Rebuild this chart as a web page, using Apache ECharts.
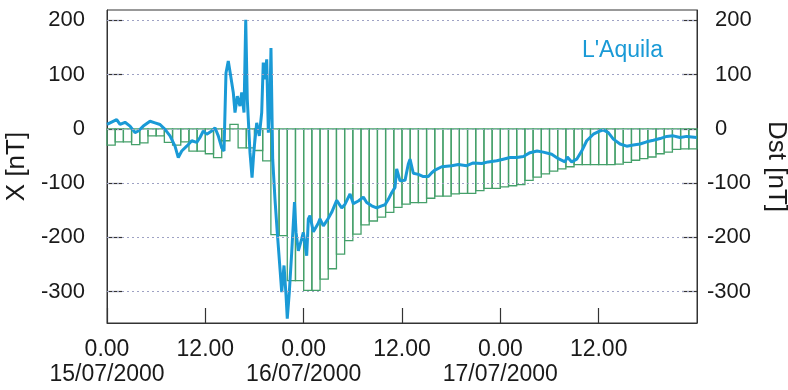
<!DOCTYPE html>
<html>
<head>
<meta charset="utf-8">
<script src="https://cdn.jsdelivr.net/npm/echarts@6/dist/echarts.min.js"></script>
<style>
html,body{margin:0;padding:0;background:#fff;}
#chart{width:788px;height:390px;}
</style>
</head>
<body>
<div id="chart"></div>
<script>
// ---- data ----
var xTickLabels = ['0.00\n15/07/2000', '12.00', '0.00\n16/07/2000', '12.00', '0.00\n17/07/2000', '12.00', ''];
var yTickValues = [-300, -200, -100, 0, 100, 200];
var stationName = "L'Aquila";

// hourly Dst [nT], hour 0 = 15/07/2000 00:00
var dstValues = [-30,-24,-24,-29,-26,-13,-13,-25,-30,-24,
  -41,-41,-46,-53,-22,8,-35,-35,-40,-59,
  -195,-197,-280,-280,-298,-298,-277,-258,-231,-206,
  -194,-177,-170,-163,-154,-145,-139,-136,-136,-128,
  -124,-124,-120,-119,-119,-114,-110,-110,-107,-105,
  -103,-95,-89,-83,-78,-74,-70,-66,-66,-66,
  -66,-66,-65,-62,-58,-55,-52,-46,-43,-38,
  -37,-37];

// L'Aquila X component: time [hours since 15/07 00:00] and value [nT]
var xTimes = [0.0,1.18,1.59,2.20,2.81,3.42,3.82,4.43,5.25,5.86,
  6.47,7.08,7.69,8.30,8.70,9.12,9.73,10.34,10.95,11.35,
  11.75,12.17,12.78,13.18,13.58,14.00,14.28,14.52,14.80,15.10,
  15.41,15.62,15.90,16.23,16.44,16.72,16.93,17.12,17.45,17.70,
  17.94,18.27,18.59,18.88,19.07,19.28,19.49,19.69,19.89,20.01,
  20.22,20.50,20.78,21.11,21.32,21.60,21.85,22.00,22.25,22.54,
  22.88,23.07,23.35,23.76,23.96,24.37,24.57,24.77,25.18,25.75,
  25.99,26.40,27.01,27.42,28.03,28.64,29.05,29.66,30.06,30.67,
  31.28,31.69,32.30,32.91,33.52,33.93,34.33,34.74,35.15,35.35,
  35.76,36.37,36.77,36.98,37.38,37.99,38.60,39.21,39.63,40.03,
  40.85,42.07,42.87,43.90,44.70,45.73,46.53,47.56,48.36,49.18,
  50.00,50.81,51.62,52.48,53.25,54.27,55.08,55.89,56.18,56.71,
  57.32,57.93,58.54,59.35,60.17,60.57,61.18,61.79,62.61,63.42,
  64.23,65.05,65.86,66.68,67.49,68.30,69.11,69.93,70.75,71.97];
var xValues = [8,17,8,12,5,-7,-4,5,14,11,
  8,-1,-13,-32,-53,-41,-32,-22,-25,-16,
  -4,-10,-4,2,-13,-35,-41,103,125,97,
  67,30,60,42,67,30,201,54,-44,-90,
  -38,11,-13,30,122,91,128,-7,54,149,
  -56,-130,-191,-258,-301,-252,-307,-350,-301,-228,
  -135,-191,-225,-203,-191,-234,-166,-160,-190,-175,
  -166,-179,-165,-154,-132,-146,-139,-120,-138,-133,
  -126,-136,-142,-146,-142,-140,-130,-118,-108,-74,
  -96,-95,-65,-56,-82,-84,-88,-88,-81,-76,
  -70,-68,-66,-68,-63,-64,-61,-59,-56,-53,
  -53,-51,-44,-41,-43,-47,-55,-61,-52,-61,
  -56,-41,-22,-10,-4,-2,-7,-19,-28,-32,
  -30,-28,-24,-21,-18,-14,-13,-16,-14,-16];

// ---- chart ----
var FONT = "'Liberation Sans', Arial, sans-serif";
var BLUE = '#1a9ad6';
var GREEN = '#45a06a';
var AXIS = '#333333';
var TEXT = '#1a1a1a';

var chart = echarts.init(document.getElementById('chart'), null, {renderer: 'canvas'});

var yCommon = {
  type: 'value', min: -358, max: 219,
  axisLine: {show: true, lineStyle: {color: AXIS, width: 1}},
  axisTick: {show: true, inside: true, length: 15, lineStyle: {color: AXIS, width: 1.2}, customValues: yTickValues},
  splitLine: {show: false},
  nameLocation: 'middle',
  nameTextStyle: {fontFamily: FONT, fontSize: 26, color: TEXT}
};

var option = {
  backgroundColor: '#ffffff',
  animation: false,
  title: {
    text: stationName, right: 120, top: 34,
    textStyle: {fontFamily: FONT, fontSize: 23, fontWeight: 'normal', color: BLUE}
  },
  grid: {left: 107, right: 91, top: 10, bottom: 67, show: true, borderColor: AXIS, borderWidth: 1,
         backgroundColor: 'transparent', outerBoundsMode: 'none', containLabel: false},
  xAxis: [{
    type: 'value', min: 0, max: 72, interval: 12,
    axisLine: {show: true, onZero: false, lineStyle: {color: AXIS, width: 1}},
    axisTick: {show: true, inside: true, length: 15, lineStyle: {color: AXIS, width: 1.2}},
    splitLine: {show: false},
    axisLabel: {
      margin: 14, fontFamily: FONT, fontSize: 23, color: TEXT, lineHeight: 25,
      showMaxLabel: false,
      formatter: function (v) { return xTickLabels[Math.round(v / 12)] || ''; }
    }
  }],
  yAxis: [
    Object.assign({}, yCommon, {
      position: 'left', name: 'X [nT]', nameRotate: 90, nameGap: 67,
      axisLabel: {margin: 22, fontFamily: FONT, fontSize: 22, color: TEXT, customValues: yTickValues}
    }),
    Object.assign({}, yCommon, {
      position: 'right', name: 'Dst [nT]', nameRotate: -90, nameGap: 66,
      axisLabel: {
        margin: 10, fontFamily: FONT, fontSize: 22, color: TEXT, align: 'left', customValues: yTickValues,
        formatter: function (v) { return v < 0 ? String(v) : '{p|' + v + '}'; },
        rich: {p: {fontFamily: FONT, fontSize: 22, color: TEXT, padding: [0, 0, 0, 8]}}
      }
    })
  ],
  series: [{
    type: 'line', xAxisIndex: 0, yAxisIndex: 0, data: [], silent: true, z: 1,
    markLine: {
      silent: true, symbol: 'none', animation: false,
      label: {show: false},
      lineStyle: {type: [2, 3], color: '#9ea2c4', width: 1},
      data: yTickValues.map(function (v) { return {yAxis: v}; })
    }
  }, {
    type: 'custom', xAxisIndex: 0, yAxisIndex: 1, z: 2,
    data: dstValues.map(function (v, i) { return [i, v]; }),
    encode: {x: 0, y: 1},
    renderItem: function (params, api) {
      var h = api.value(0), v = api.value(1);
      var p0 = api.coord([h, 0]);
      var p1 = api.coord([h + 1, v]);
      return {
        type: 'rect',
        shape: {x: p0[0], y: Math.min(p0[1], p1[1]), width: p1[0] - p0[0], height: Math.abs(p1[1] - p0[1])},
        style: {fill: 'none', stroke: GREEN, lineWidth: 1.3}
      };
    }
  }, {
    type: 'line', xAxisIndex: 0, yAxisIndex: 0, z: 3,
    data: xTimes.map(function (t, i) { return [t, xValues[i]]; }),
    showSymbol: false, symbol: 'none',
    lineStyle: {color: BLUE, width: 3},
    silent: true
  }]
};
chart.setOption(option);
</script>
</body>
</html>
